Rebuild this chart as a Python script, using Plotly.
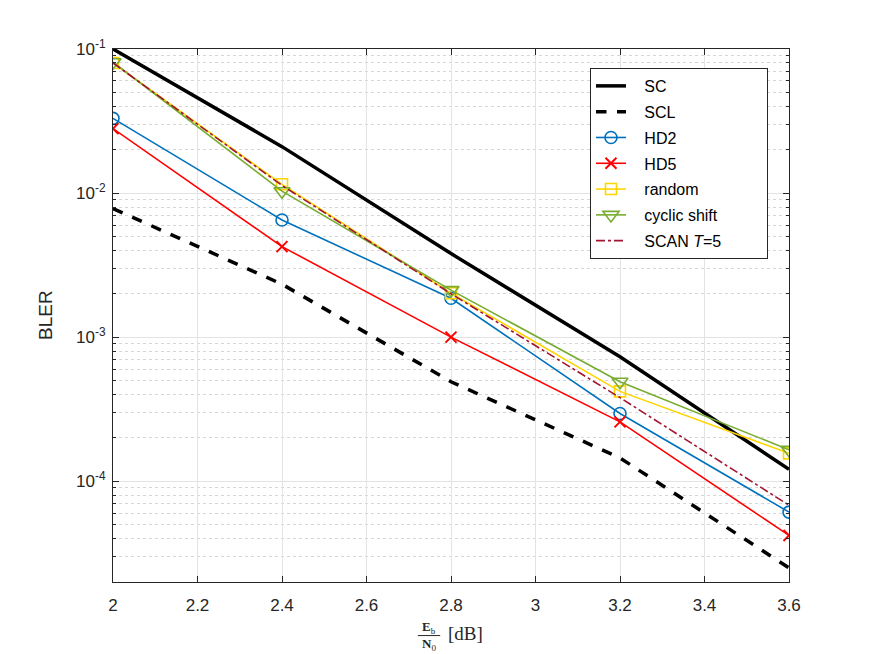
import plotly.graph_objects as go

# Eb/N0 in dB
snr_db = [2.0, 2.4, 2.8, 3.2, 3.6]

# BLER
bler_sc = [1.0e-1, 2.1e-2, 3.8e-3, 7.3e-4, 1.21e-4]
bler_scl = [7.8e-3, 2.33e-3, 4.9e-4, 1.45e-4, 2.5e-5]
bler_hd2 = [3.3e-2, 6.5e-3, 1.86e-3, 2.95e-4, 6.1e-5]
bler_hd5 = [2.8e-2, 4.25e-3, 1.0e-3, 2.58e-4, 4.2e-5]
bler_random = [8.0e-2, 1.15e-2, 2.02e-3, 4.2e-4, 1.56e-4]
bler_cyclic = [8.1e-2, 1.03e-2, 2.12e-3, 4.9e-4, 1.65e-4]
bler_scan = [8.0e-2, 1.13e-2, 2.0e-3, 3.8e-4, 6.8e-5]

x_ticks = [2.0, 2.2, 2.4, 2.6, 2.8, 3.0, 3.2, 3.4, 3.6]
x_labels = ["2", "2.2", "2.4", "2.6", "2.8", "3", "3.2", "3.4", "3.6"]
y_ticks = [1e-4, 1e-3, 1e-2, 1e-1]
y_labels = ["10<sup>-4</sup>", "10<sup>-3</sup>", "10<sup>-2</sup>", "10<sup>-1</sup>"]

# minor grid positions (2..9 per decade)
y_minor = [m * 10.0 ** e for e in range(-5, -1) for m in range(2, 10)]

series = [
    ("SC", bler_sc, "#000000", 3.5, "solid", None, 0),
    ("SCL", bler_scl, "#000000", 3.5, "dash", None, 0),
    ("HD2", bler_hd2, "#0072BD", 1.6, "solid", "circle-open", 12),
    ("HD5", bler_hd5, "#FF0000", 1.6, "solid", "x-thin-open", 11),
    ("random", bler_random, "#FFD500", 1.6, "solid", "square-open", 11),
    ("cyclic shift", bler_cyclic, "#77AC30", 1.6, "solid", "triangle-down-open", 14),
    ("SCAN <i>T</i>=5", bler_scan, "#A2142F", 1.6, "dashdot", None, 0),
]

# nbsp padding so the legend box is as wide as the original one
pad_izq = "\u00a0" * 3
pad_der = "\u00a0" * 9

fig = go.Figure()

for i, (nombre, vals, color, ancho, estilo, simbolo, tam) in enumerate(series):
    if simbolo is None:
        modo = "lines"
        marcador = None
    else:
        modo = "lines+markers"
        marcador = dict(symbol=simbolo, size=tam, color=color,
                        line=dict(color=color, width=2 if "x" in simbolo else 1.6))
    fig.add_trace(go.Scatter(
        x=snr_db,
        y=vals,
        name=pad_izq + nombre + pad_der,
        mode=modo,
        marker=marcador,
        line=dict(color=color, width=ancho, dash=estilo),
        legendgroup="g%d" % i,
    ))

eje = dict(
    showline=True,
    linecolor="#262626",
    linewidth=1,
    mirror="ticks",
    ticks="inside",
    ticklen=6,
    tickcolor="#262626",
    tickfont=dict(family="Liberation Sans, Arial", size=17, color="#262626"),
    showgrid=True,
    gridcolor="#e3e3e3",
    gridwidth=1,
    zeroline=False,
)

fig.update_xaxes(
    eje,
    range=[2.0, 3.6],
    tickvals=x_ticks,
    ticktext=x_labels,
    ticklabelstandoff=8,
)

fig.update_yaxes(
    eje,
    type="log",
    range=[-4.7, -1.0],
    tickvals=y_ticks,
    ticktext=y_labels,
    ticklabelstandoff=3,
    minor=dict(
        tickvals=y_minor,
        ticks="inside",
        ticklen=3,
        tickcolor="#262626",
        showgrid=True,
        gridcolor="#d6d6d6",
        griddash="dot",
        gridwidth=1,
    ),
)

# the page body has an 8px margin, so the figure is a bit smaller than the window
fig.update_layout(
    width=864,
    height=646,
    margin=dict(l=105, r=83, t=41, b=72),
    paper_bgcolor="white",
    plot_bgcolor="white",
    font=dict(family="Liberation Sans, Arial", color="#262626"),
    showlegend=True,
    legend=dict(
        x=0.7056,
        y=0.9644,
        xanchor="left",
        yanchor="top",
        bgcolor="white",
        bordercolor="#262626",
        borderwidth=1,
        font=dict(family="Liberation Sans, Arial", size=16, color="#000000"),
        tracegroupgap=2,
    ),
    annotations=[
        dict(text="BLER", x=-0.0998, y=0.5, xref="paper", yref="paper",
             textangle=-90, showarrow=False, xanchor="center", yanchor="middle",
             font=dict(family="Liberation Sans, Arial", size=19, color="#262626")),
        dict(text="<b>E</b><sub>b</sub>", x=0.4675, y=-0.086, xref="paper", yref="paper",
             showarrow=False, xanchor="center", yanchor="middle",
             font=dict(family="Liberation Serif, DejaVu Serif", size=13, color="#262626")),
        dict(text="<b>N</b><sub>0</sub>", x=0.4675, y=-0.117, xref="paper", yref="paper",
             showarrow=False, xanchor="center", yanchor="middle",
             font=dict(family="Liberation Serif, DejaVu Serif", size=13, color="#262626")),
        dict(text="[dB]", x=0.522, y=-0.097, xref="paper", yref="paper",
             showarrow=False, xanchor="center", yanchor="middle",
             font=dict(family="Liberation Serif, DejaVu Serif", size=19, color="#262626")),
    ],
    shapes=[
        dict(type="line", xref="paper", yref="paper",
             x0=0.451, x1=0.484, y0=-0.1005, y1=-0.1005,
             line=dict(color="#262626", width=1)),
    ],
)

fig.write_html("out.html")
